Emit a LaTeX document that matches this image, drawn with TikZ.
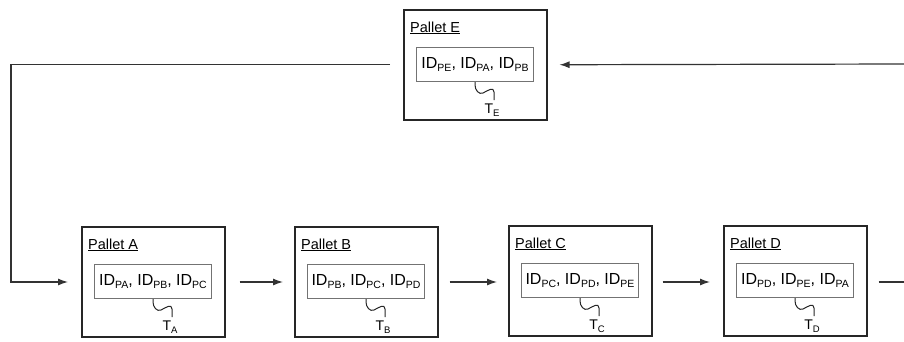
\documentclass[tikz,border=0pt]{standalone}
\usepackage{fontspec}
\setmainfont{Liberation Sans}
\usetikzlibrary{arrows.meta,calc}

% identifier with a lowered, smaller index, e.g. ID_PA
\newcommand\tagid[1]{ID\raisebox{-0.25ex}{\fontsize{10.5}{12}\selectfont #1}}
% transponder label T_X
\newcommand\tlabel[1]{T\raisebox{-0.3ex}{\fontsize{9.5}{11}\selectfont #1}}

% one pallet: #1 key, #2 x, #3 y (top left), #4 letter, #5 stored identifiers
\newcommand\pallet[5]{%
  \node[palletbox] (p#1) at (#2,#3) {};
  \node[pallettitle] (p#1t) at ($(p#1.north west)+(7,23)$) {\underline{Pallet #4}};
  \node[memorybox] (p#1i) at ($(p#1.north west)+(13,38)$) {#5};
  \draw[squiggle] (p#1i.south) -- ++(0,3)
     .. controls +(0,5) and +(-4,2) .. ++(8,8)
     .. controls +(4,-2) and +(0,-6) .. ++(11,-1)
     -- ++(0,8) coordinate (p#1e);
  \node[taglabel] (t#1) at ($(p#1e)+(-2,4)$) {\tlabel{#4}};
}

\begin{document}
\begin{tikzpicture}[x=1pt,y=-1pt,
  palletbox/.style={draw=black!85, line width=1.5pt, minimum width=143pt,
    minimum height=110pt, anchor=north west, inner sep=0pt},
  pallettitle/.style={anchor=base west, inner sep=0pt, font=\fontsize{14.5}{17}\selectfont},
  memorybox/.style={draw=black!55, line width=1pt, minimum width=117pt,
    minimum height=34pt, anchor=north west, inner sep=0pt, font=\fontsize{16}{18}\selectfont},
  taglabel/.style={anchor=north, inner sep=0pt, font=\fontsize{14}{16}\selectfont},
  squiggle/.style={draw=black!85, line width=1pt},
  flow/.style={draw=black!80, line width=1.2pt, -{Latex[length=10pt,width=7pt]}},
  wire/.style={draw=black!80, line width=1.2pt}]
\useasboundingbox (0,0) rectangle (904,341);

\pallet{E}{403}{9}{E}{\tagid{PE}, \tagid{PA}, \tagid{PB}}
\pallet{A}{81}{226}{A}{\tagid{PA}, \tagid{PB}, \tagid{PC}}
\pallet{B}{294}{226}{B}{\tagid{PB}, \tagid{PC}, \tagid{PD}}
\pallet{C}{508}{225}{C}{\tagid{PC}, \tagid{PD}, \tagid{PE}}
\pallet{D}{723}{225}{D}{\tagid{PD}, \tagid{PE}, \tagid{PA}}

% free ends of the loop at the right margin and the return corner on the left
\coordinate (outD) at (904,282);
\coordinate (inE) at (904,64);
\coordinate (loop) at (11,282);

\draw[flow, shorten <=13pt, shorten >=13pt] (pE.west) -| (loop) -- (pA.west |- loop);
\draw[flow, shorten <=14pt, shorten >=11pt] (pA.east |- loop) -- (pB.west |- loop);
\draw[flow, shorten <=11pt, shorten >=11pt] (pB.east |- loop) -- (pC.west |- loop);
\draw[flow, shorten <=10pt, shorten >=13pt] (pC.east |- loop) -- (pD.west |- loop);
\draw[wire, shorten <=11pt] (pD.east |- loop) -- (outD);
\draw[flow, shorten >=12pt] (inE) -- (pE.east);
\end{tikzpicture}
\end{document}
